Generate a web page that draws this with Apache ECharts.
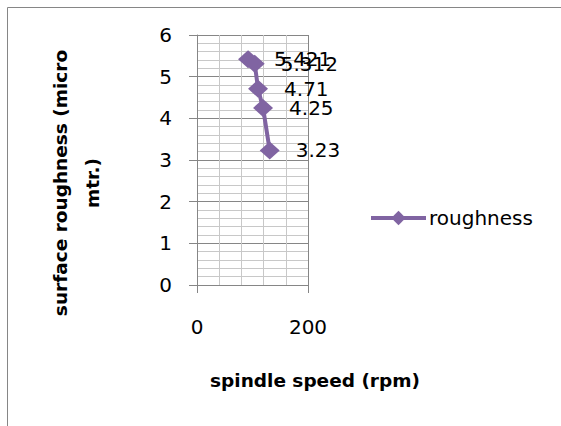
<!DOCTYPE html>
<html>
<head>
<meta charset="utf-8">
<script src="https://cdn.jsdelivr.net/npm/echarts@6/dist/echarts.min.js"></script>
<style>
  html, body { margin: 0; padding: 0; background: #fff; }
  #chart { width: 561px; height: 426px; }
</style>
</head>
<body>
<div id="chart"></div>
<script>
// spindle speed (rpm) vs surface roughness
const speed = [92, 104, 110, 119, 131]
const roughness = [5.421, 5.312, 4.71, 4.25, 3.23]
const seriesName = 'roughness'

const font = 'DejaVu Sans'
const purple = '#8064A2'

const chart = echarts.init(document.getElementById('chart'), null, { renderer: 'svg' })

const points = speed.map((s, i) => [s, roughness[i]])

const option = {
  animation: false,
  textStyle: { fontFamily: font },
  grid: { left: 197, right: 253, top: 35, bottom: 141 },
  legend: {
    left: 369,
    top: 208,
    padding: 0,
    itemWidth: 55,
    itemHeight: 18,
    itemGap: 4,
    lineStyle: { width: 4 },
    textStyle: { fontSize: 20, color: '#000', fontFamily: font, padding: [0, 0, 0, -2] },
    data: [seriesName]
  },
  xAxis: {
    type: 'value',
    min: 0,
    max: 200,
    interval: 200,
    axisLine: { show: false },
    axisTick: { show: true, length: 8, lineStyle: { color: '#868686', width: 1 } },
    axisLabel: { margin: 32, fontSize: 20, color: '#000', fontFamily: font },
    splitLine: { show: true, lineStyle: { color: '#868686', width: 1 } },
    minorTick: { show: false, splitNumber: 5 },
    minorSplitLine: { show: true, lineStyle: { color: '#c8c8c8', width: 1 } }
  },
  yAxis: {
    type: 'value',
    min: 0,
    max: 6,
    interval: 1,
    axisLine: { show: true, lineStyle: { color: '#868686', width: 1 } },
    axisTick: { show: true, length: 8, lineStyle: { color: '#868686', width: 1 } },
    axisLabel: { margin: 25, fontSize: 20, color: '#000', fontFamily: font },
    splitLine: { show: true, lineStyle: { color: '#868686', width: 1 } },
    minorTick: { show: false, splitNumber: 5 },
    minorSplitLine: { show: true, lineStyle: { color: '#c8c8c8', width: 1 } }
  },
  graphic: [
    {
      type: 'rect',
      shape: { x: 7.5, y: 7.5, width: 700, height: 600 },
      style: { fill: 'none', stroke: '#868686', lineWidth: 1 },
      silent: true
    },
    {
      type: 'text',
      x: 315,
      y: 380,
      style: {
        text: 'spindle speed (rpm)',
        fontFamily: font,
        fontSize: 18.5,
        fontWeight: 'bold',
        fill: '#000',
        align: 'center',
        verticalAlign: 'middle'
      }
    },
    {
      type: 'text',
      x: 76,
      y: 183,
      rotation: Math.PI / 2,
      style: {
        text: 'surface roughness (micro\nmtr.)',
        fontFamily: font,
        fontSize: 18.5,
        fontWeight: 'bold',
        lineHeight: 32,
        fill: '#000',
        align: 'center',
        verticalAlign: 'middle'
      }
    }
  ],
  series: [
    {
      name: seriesName,
      type: 'line',
      data: points,
      symbol: 'diamond',
      symbolSize: [20, 18],
      itemStyle: { color: purple },
      lineStyle: { color: purple, width: 4 },
      label: {
        show: true,
        position: 'right',
        distance: 16,
        fontSize: 20,
        lineHeight: 16,
        color: '#000',
        fontFamily: font,
        formatter: p => String(p.value[1])
      }
    }
  ]
}

chart.setOption(option)
</script>
</body>
</html>
